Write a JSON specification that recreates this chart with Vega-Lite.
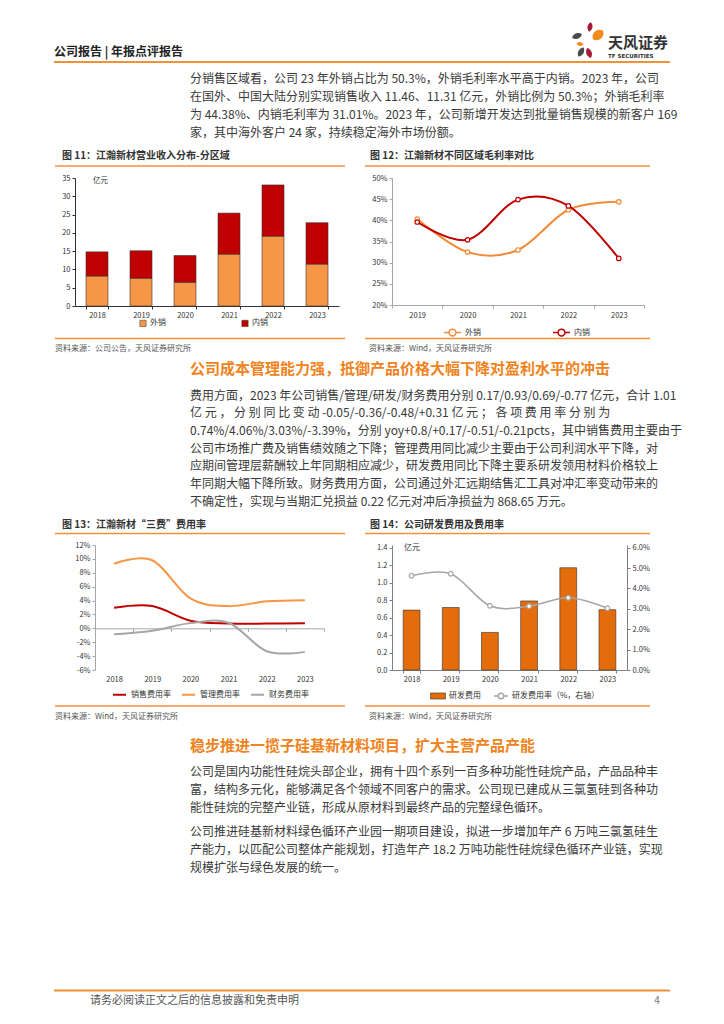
{
  "$schema": "https://vega.github.io/schema/vega-lite/v6.json",
  "padding": 0,
  "background": "white",
  "columns": 2,
  "spacing": {"row": 0, "column": 53},
  "bounds": "flush",
  "align": "each",
  "resolve": {
    "scale": {"color": "independent", "fill": "independent", "stroke": "independent"},
    "legend": {"color": "independent", "fill": "independent", "stroke": "independent"}
  },
  "datasets": {"one": [{"k": 1}]},
  "config": {
    "view": {"stroke": null},
    "font": "Noto Sans CJK SC",
    "axis": {"labelFont": "Noto Sans CJK SC", "labelFontSize": 7.5, "labelColor": "#333333", "grid": false, "tickSize": 3, "labelPadding": 2},
    "legend": {"labelFont": "Noto Sans CJK SC", "labelFontSize": 8, "labelColor": "#333333"}
  },
  "concat": [
    {
      "width": 264,
      "height": 177.5,
      "layer": [
        {"data": {"name": "one"}, "mark": {"type": "rect", "fill": "white"}, "encoding": {"x": {"value": -75}, "x2": {"value": 649}, "y": {"value": 0}, "y2": {"value": 1024}}},
        {"data": {"name": "one"}, "mark": {"type": "text", "align": "left", "baseline": "middle", "fontSize": 12, "fontWeight": "bold", "color": "#222222"}, "encoding": {"x": {"value": -21}, "y": {"value": 52}, "text": {"value": "公司报告 | 年报点评报告"}}},
        {"data": {"name": "one"}, "mark": {"type": "rule", "color": "#F0913A", "strokeWidth": 2}, "encoding": {"x": {"value": -21}, "x2": {"value": 595}, "y": {"value": 62}}},
        {"data": {"name": "one"}, "mark": {"type": "point", "filled": true, "shape": "M0,-1C0.7,-0.5,0.7,0.5,0,1C-0.7,0.5,-0.7,-0.5,0,-1Z", "size": 90, "angle": 10, "color": "#A51C3A", "opacity": 1}, "encoding": {"x": {"value": 515}, "y": {"value": 27}}},
        {"data": {"name": "one"}, "mark": {"type": "point", "filled": true, "shape": "M0,-1C0.9,-0.6,0.9,0.6,0,1C-0.9,0.6,-0.9,-0.6,0,-1Z", "size": 180, "angle": 50, "color": "#F28A1E", "opacity": 1}, "encoding": {"x": {"value": 523}, "y": {"value": 35}}},
        {"data": {"name": "one"}, "mark": {"type": "point", "filled": true, "shape": "M0,-1C0.7,-0.5,0.7,0.5,0,1C-0.7,0.5,-0.7,-0.5,0,-1Z", "size": 110, "angle": 70, "color": "#4A4A4A", "opacity": 1}, "encoding": {"x": {"value": 502}, "y": {"value": 36}}},
        {"data": {"name": "one"}, "mark": {"type": "point", "filled": true, "shape": "M0,-1C0.7,-0.5,0.7,0.5,0,1C-0.7,0.5,-0.7,-0.5,0,-1Z", "size": 50, "angle": 100, "color": "#F28A1E", "opacity": 1}, "encoding": {"x": {"value": 505}, "y": {"value": 44}}},
        {"data": {"name": "one"}, "mark": {"type": "point", "filled": true, "shape": "M0,-1C0.7,-0.5,0.7,0.5,0,1C-0.7,0.5,-0.7,-0.5,0,-1Z", "size": 110, "angle": 30, "color": "#4A4A4A", "opacity": 1}, "encoding": {"x": {"value": 506}, "y": {"value": 52}}},
        {"data": {"name": "one"}, "mark": {"type": "point", "filled": true, "shape": "M0,-1C0.7,-0.5,0.7,0.5,0,1C-0.7,0.5,-0.7,-0.5,0,-1Z", "size": 110, "angle": 160, "color": "#A51C3A", "opacity": 1}, "encoding": {"x": {"value": 514}, "y": {"value": 53}}},
        {"data": {"name": "one"}, "mark": {"type": "text", "align": "left", "baseline": "middle", "fontSize": 15, "fontWeight": "bold", "color": "#333333"}, "encoding": {"x": {"value": 533}, "y": {"value": 43}, "text": {"value": "天风证券"}}},
        {"data": {"name": "one"}, "mark": {"type": "text", "align": "left", "baseline": "middle", "fontSize": 5.5, "fontWeight": "bold", "color": "#333333", "font": "DejaVu Sans"}, "encoding": {"x": {"value": 533}, "y": {"value": 56}, "text": {"value": "TF SECURITIES"}}},
        {
          "data": {"values": [
            {"line": 1, "text": "分销售区域看，公司 23 年外销占比为 50.3%，外销毛利率水平高于内销。2023 年，公司"},
            {"line": 2, "text": "在国外、中国大陆分别实现销售收入 11.46、11.31 亿元，外销比例为 50.3%；外销毛利率"},
            {"line": 3, "text": "为 44.38%、内销毛利率为 31.01%。2023 年，公司新增开发达到批量销售规模的新客户 169"},
            {"line": 4, "text": "家，其中海外客户 24 家，持续稳定海外市场份额。"}
          ]},
          "mark": {"type": "text", "align": "left", "baseline": "middle", "fontSize": 12, "color": "#3A3A3A"},
          "encoding": {
            "x": {"value": 115},
            "y": {"field": "line", "type": "quantitative", "scale": {"domain": [1, 4], "range": [79, 133]}, "axis": null},
            "text": {"field": "text"}
          }
        },
        {"data": {"name": "one"}, "mark": {"type": "text", "align": "left", "baseline": "middle", "fontSize": 10, "fontWeight": "bold", "color": "#333333"}, "encoding": {"x": {"value": -13}, "y": {"value": 156}, "text": {"value": "图 11：江瀚新材营业收入分布-分区域"}}},
        {"data": {"name": "one"}, "mark": {"type": "text", "align": "left", "baseline": "middle", "fontSize": 10, "fontWeight": "bold", "color": "#333333"}, "encoding": {"x": {"value": 295}, "y": {"value": 156}, "text": {"value": "图 12：江瀚新材不同区域毛利率对比"}}},
        {"data": {"name": "one"}, "mark": {"type": "rule", "color": "#F0913A", "strokeWidth": 1.5}, "encoding": {"x": {"value": -20}, "x2": {"value": 270}, "y": {"value": 166}}},
        {"data": {"name": "one"}, "mark": {"type": "rule", "color": "#F0913A", "strokeWidth": 1.5}, "encoding": {"x": {"value": 290}, "x2": {"value": 575}, "y": {"value": 166}}}
      ],
      "resolve": {"scale": {"y": "independent"}}
    },
    {"data": {"values": []}, "mark": "text", "width": 1, "height": 1},
    {
      "width": 264,
      "height": 128,
      "layer": [
        {
          "data": {"values": [
            {"year": "2018", "region": "外销", "k": 1, "value": 8.2},
            {"year": "2018", "region": "内销", "k": 2, "value": 6.6},
            {"year": "2019", "region": "外销", "k": 1, "value": 7.6},
            {"year": "2019", "region": "内销", "k": 2, "value": 7.5},
            {"year": "2020", "region": "外销", "k": 1, "value": 6.5},
            {"year": "2020", "region": "内销", "k": 2, "value": 7.3},
            {"year": "2021", "region": "外销", "k": 1, "value": 14.2},
            {"year": "2021", "region": "内销", "k": 2, "value": 11.2},
            {"year": "2022", "region": "外销", "k": 1, "value": 19.1},
            {"year": "2022", "region": "内销", "k": 2, "value": 14.0},
            {"year": "2023", "region": "外销", "k": 1, "value": 11.46},
            {"year": "2023", "region": "内销", "k": 2, "value": 11.31}
          ]},
          "mark": {"type": "bar", "stroke": "#333333", "strokeWidth": 0.6},
          "encoding": {
            "x": {"field": "year", "type": "ordinal", "scale": {"paddingInner": 0.5, "paddingOuter": 0.25}, "axis": {"title": null, "labelAngle": 0, "tickBand": "extent", "domainColor": "#333333", "tickColor": "#333333", "labelPadding": 2}},
            "y": {"field": "value", "type": "quantitative", "stack": "zero", "scale": {"domain": [0, 35], "nice": false}, "axis": {"title": null, "values": [0, 5, 10, 15, 20, 25, 30, 35], "domainColor": "#333333", "tickColor": "#333333"}},
            "color": {"field": "region", "type": "nominal", "scale": {"domain": ["外销", "内销"], "range": ["#F79646", "#C00000"]},
              "legend": {"title": null, "orient": "none", "legendX": 64, "legendY": 141, "direction": "horizontal", "symbolType": "square", "symbolSize": 40, "symbolStrokeColor": "#333333", "symbolStrokeWidth": 0.5, "columnPadding": 74, "labelOffset": 3}},
            "order": {"field": "k", "type": "quantitative"}
          }
        },
        {"data": {"values": [{"u": "亿元"}]}, "mark": {"type": "text", "align": "left", "baseline": "middle", "fontSize": 7.5, "color": "#333333"}, "encoding": {"x": {"value": 18}, "y": {"value": 3}, "text": {"field": "u"}}}
      ]
    },
    {
      "width": 252,
      "height": 127,
      "data": {"values": [
        {"year": "2019", "region": "外销", "rate": 40.3},
        {"year": "2020", "region": "外销", "rate": 32.5},
        {"year": "2021", "region": "外销", "rate": 33.0},
        {"year": "2022", "region": "外销", "rate": 42.5},
        {"year": "2023", "region": "外销", "rate": 44.38},
        {"year": "2019", "region": "内销", "rate": 39.6},
        {"year": "2020", "region": "内销", "rate": 35.4},
        {"year": "2021", "region": "内销", "rate": 44.9},
        {"year": "2022", "region": "内销", "rate": 43.4},
        {"year": "2023", "region": "内销", "rate": 31.01}
      ]},
      "mark": {"type": "line", "interpolate": "cardinal", "strokeWidth": 2, "point": {"filled": false, "fill": "white", "size": 20, "strokeWidth": 1.2}},
      "encoding": {
        "x": {"field": "year", "type": "ordinal", "bandPosition": 0.5, "scale": {"type": "band", "paddingInner": 0, "paddingOuter": 0}, "axis": {"title": null, "labelAngle": 0, "tickBand": "extent", "domainColor": "#A6A6A6", "tickColor": "#A6A6A6", "labelPadding": 3}},
        "y": {"field": "rate", "type": "quantitative", "scale": {"domain": [20, 50], "nice": false}, "axis": {"title": null, "values": [20, 25, 30, 35, 40, 45, 50], "labelExpr": "datum.value + '%'", "domainColor": "#A6A6A6", "tickColor": "#A6A6A6"}},
        "color": {"field": "region", "type": "nominal", "scale": {"domain": ["外销", "内销"], "range": ["#F28C38", "#C00000"]},
          "legend": {"title": null, "orient": "none", "legendX": 51, "legendY": 145, "direction": "horizontal", "symbolType": "M-1,0L-0.4,0M0.4,0L1,0M0.4,0A0.4,0.4,0,1,1,-0.4,0A0.4,0.4,0,1,1,0.4,0", "symbolSize": 289, "symbolStrokeWidth": 1.5, "symbolFillColor": "white", "columnPadding": 69, "labelOffset": 3}}
      }
    },
    {
      "width": 264,
      "height": 239,
      "layer": [
        {"data": {"name": "one"}, "mark": {"type": "rule", "color": "#F0913A", "strokeWidth": 1.5}, "encoding": {"x": {"value": -20}, "x2": {"value": 270}, "y": {"value": 32.5}}},
        {"data": {"name": "one"}, "mark": {"type": "rule", "color": "#F0913A", "strokeWidth": 1.5}, "encoding": {"x": {"value": 290}, "x2": {"value": 575}, "y": {"value": 32.5}}},
        {"data": {"name": "one"}, "mark": {"type": "text", "align": "left", "baseline": "middle", "fontSize": 8, "color": "#555555"}, "encoding": {"x": {"value": -20}, "y": {"value": 42.5}, "text": {"value": "资料来源：公司公告，天风证券研究所"}}},
        {"data": {"name": "one"}, "mark": {"type": "text", "align": "left", "baseline": "middle", "fontSize": 8, "color": "#555555"}, "encoding": {"x": {"value": 294}, "y": {"value": 42.5}, "text": {"value": "资料来源：Wind，天风证券研究所"}}},
        {"data": {"name": "one"}, "mark": {"type": "text", "align": "left", "baseline": "middle", "fontSize": 15, "fontWeight": "bold", "color": "#EF8320"}, "encoding": {"x": {"value": 115}, "y": {"value": 62.5}, "text": {"value": "公司成本管理能力强，抵御产品价格大幅下降对盈利水平的冲击"}}},
        {
          "data": {"values": [
            {"line": 1, "text": "费用方面，2023 年公司销售/管理/研发/财务费用分别 0.17/0.93/0.69/-0.77 亿元，合计 1.01"},
            {"line": 2, "text": "亿 元 ， 分 别 同 比 变 动 -0.05/-0.36/-0.48/+0.31  亿 元 ； 各 项 费 用 率 分 别 为"},
            {"line": 3, "text": "0.74%/4.06%/3.03%/-3.39%，分别 yoy+0.8/+0.17/-0.51/-0.21pcts，其中销售费用主要由于"},
            {"line": 4, "text": "公司市场推广费及销售绩效随之下降；管理费用同比减少主要由于公司利润水平下降，对"},
            {"line": 5, "text": "应期间管理层薪酬较上年同期相应减少，研发费用同比下降主要系研发领用材料价格较上"},
            {"line": 6, "text": "年同期大幅下降所致。财务费用方面，公司通过外汇远期结售汇工具对冲汇率变动带来的"},
            {"line": 7, "text": "不确定性，实现与当期汇兑损益 0.22 亿元对冲后净损益为 868.65 万元。"}
          ]},
          "mark": {"type": "text", "align": "left", "baseline": "middle", "fontSize": 12, "color": "#3A3A3A"},
          "encoding": {
            "x": {"value": 115},
            "y": {"field": "line", "type": "quantitative", "scale": {"domain": [1, 7], "range": [89.5, 195.5]}, "axis": null},
            "text": {"field": "text"}
          }
        },
        {"data": {"name": "one"}, "mark": {"type": "text", "align": "left", "baseline": "middle", "fontSize": 10, "fontWeight": "bold", "color": "#333333"}, "encoding": {"x": {"value": -13}, "y": {"value": 218.5}, "text": {"value": "图 13：江瀚新材“三费”费用率"}}},
        {"data": {"name": "one"}, "mark": {"type": "text", "align": "left", "baseline": "middle", "fontSize": 10, "fontWeight": "bold", "color": "#333333"}, "encoding": {"x": {"value": 295}, "y": {"value": 218.5}, "text": {"value": "图 14：公司研发费用及费用率"}}},
        {"data": {"name": "one"}, "mark": {"type": "rule", "color": "#F0913A", "strokeWidth": 1.5}, "encoding": {"x": {"value": -20}, "x2": {"value": 270}, "y": {"value": 227.5}}},
        {"data": {"name": "one"}, "mark": {"type": "rule", "color": "#F0913A", "strokeWidth": 1.5}, "encoding": {"x": {"value": 290}, "x2": {"value": 575}, "y": {"value": 227.5}}}
      ],
      "resolve": {"scale": {"y": "independent"}}
    },
    {"data": {"values": []}, "mark": "text", "width": 1, "height": 1},
    {
      "width": 249,
      "height": 125,
      "data": {"values": [
        {"year": "2018", "series": "销售费用率", "rate": 2.95},
        {"year": "2019", "series": "销售费用率", "rate": 3.2},
        {"year": "2020", "series": "销售费用率", "rate": 1.1},
        {"year": "2021", "series": "销售费用率", "rate": 0.7},
        {"year": "2022", "series": "销售费用率", "rate": 0.68},
        {"year": "2023", "series": "销售费用率", "rate": 0.74},
        {"year": "2018", "series": "管理费用率", "rate": 9.3},
        {"year": "2019", "series": "管理费用率", "rate": 9.8},
        {"year": "2020", "series": "管理费用率", "rate": 4.3},
        {"year": "2021", "series": "管理费用率", "rate": 3.2},
        {"year": "2022", "series": "管理费用率", "rate": 3.89},
        {"year": "2023", "series": "管理费用率", "rate": 4.06},
        {"year": "2018", "series": "财务费用率", "rate": -0.85},
        {"year": "2019", "series": "财务费用率", "rate": -0.35},
        {"year": "2020", "series": "财务费用率", "rate": 0.75},
        {"year": "2021", "series": "财务费用率", "rate": 0.8},
        {"year": "2022", "series": "财务费用率", "rate": -3.3},
        {"year": "2023", "series": "财务费用率", "rate": -3.39}
      ]},
      "mark": {"type": "line", "interpolate": "cardinal", "strokeWidth": 2},
      "encoding": {
        "x": {"field": "year", "type": "ordinal", "bandPosition": 0.5, "scale": {"type": "band", "range": [20, 249], "paddingInner": 0, "paddingOuter": 0}, "axis": {"title": null, "labelAngle": 0, "tickBand": "extent", "offset": -41.67, "labelPadding": 44, "domainColor": "#A6A6A6", "tickColor": "#A6A6A6"}},
        "y": {"field": "rate", "type": "quantitative", "scale": {"domain": [-6, 12], "nice": false}, "axis": {"title": null, "offset": -20, "values": [-6, -4, -2, 0, 2, 4, 6, 8, 10, 12], "labelExpr": "datum.value + '%'", "domainColor": "#A6A6A6", "tickColor": "#A6A6A6"}},
        "color": {"field": "series", "type": "nominal", "scale": {"domain": ["销售费用率", "管理费用率", "财务费用率"], "range": ["#C00000", "#F79646", "#A6A6A6"]},
          "legend": {"title": null, "orient": "none", "legendX": 37, "legendY": 142, "direction": "horizontal", "symbolType": "stroke", "symbolSize": 169, "symbolStrokeWidth": 2, "columnPadding": 7, "labelOffset": 4}}
      }
    },
    {
      "width": 235,
      "height": 125,
      "data": {"values": [
        {"year": "2018", "cost": 0.685, "ratio": 4.62},
        {"year": "2019", "cost": 0.715, "ratio": 4.72},
        {"year": "2020", "cost": 0.43, "ratio": 3.15},
        {"year": "2021", "cost": 0.79, "ratio": 3.13},
        {"year": "2022", "cost": 1.17, "ratio": 3.54},
        {"year": "2023", "cost": 0.69, "ratio": 3.03}
      ]},
      "layer": [
        {
          "mark": {"type": "bar", "stroke": "#333333", "strokeWidth": 0.6},
          "encoding": {
            "x": {"field": "year", "type": "ordinal", "scale": {"paddingInner": 0.57, "paddingOuter": 0.285}, "axis": {"title": null, "labelAngle": 0, "tickBand": "extent", "domainColor": "#808080", "tickColor": "#808080", "labelPadding": 2}},
            "y": {"field": "cost", "type": "quantitative", "scale": {"domain": [0, 1.43], "nice": false}, "axis": {"title": null, "values": [0, 0.2, 0.4, 0.6, 0.8, 1.0, 1.2, 1.4], "format": ".1f", "domainColor": "#808080", "tickColor": "#808080"}},
            "fill": {"datum": "研发费用", "scale": {"domain": ["研发费用"], "range": ["#E46C0A"]},
              "legend": {"title": null, "orient": "none", "legendX": 38, "legendY": 143, "symbolType": "M-1,-0.4L1,-0.4L1,0.4L-1,0.4Z", "symbolSize": 225, "symbolStrokeColor": "#333333", "symbolStrokeWidth": 0.6, "labelOffset": 3}}
          }
        },
        {
          "mark": {"type": "line", "interpolate": "cardinal", "strokeWidth": 1.5, "point": {"filled": false, "fill": "white", "size": 22, "strokeWidth": 1.2}},
          "encoding": {
            "x": {"field": "year", "type": "ordinal", "bandPosition": 0.5},
            "y": {"field": "ratio", "type": "quantitative", "scale": {"domain": [0, 6.13], "nice": false}, "axis": {"title": null, "orient": "right", "values": [0, 1, 2, 3, 4, 5, 6], "labelExpr": "format(datum.value, '.1f') + '%'", "domainColor": "#808080", "tickColor": "#808080"}},
            "stroke": {"datum": "研发费用率（%，右轴）", "scale": {"domain": ["研发费用率（%，右轴）"], "range": ["#A6A6A6"]},
              "legend": {"title": null, "orient": "none", "legendX": 101, "legendY": 143, "symbolType": "M-1,0L-0.4,0M0.4,0L1,0M0.4,0A0.4,0.4,0,1,1,-0.4,0A0.4,0.4,0,1,1,0.4,0", "symbolSize": 196, "symbolStrokeWidth": 1.5, "symbolFillColor": "white", "labelOffset": 3}}
          }
        },
        {"data": {"values": [{"u": "亿元"}]}, "mark": {"type": "text", "align": "left", "baseline": "middle", "fontSize": 8, "color": "#333333"}, "encoding": {"x": {"value": 12}, "y": {"value": 3}, "text": {"field": "u"}}}
      ],
      "resolve": {"scale": {"y": "independent"}}
    },
    {
      "width": 264,
      "height": 354.5,
      "layer": [
        {"data": {"name": "one"}, "mark": {"type": "rule", "color": "#F0913A", "strokeWidth": 1.5}, "encoding": {"x": {"value": -20}, "x2": {"value": 270}, "y": {"value": 36}}},
        {"data": {"name": "one"}, "mark": {"type": "rule", "color": "#F0913A", "strokeWidth": 1.5}, "encoding": {"x": {"value": 290}, "x2": {"value": 575}, "y": {"value": 36}}},
        {"data": {"name": "one"}, "mark": {"type": "text", "align": "left", "baseline": "middle", "fontSize": 8, "color": "#555555"}, "encoding": {"x": {"value": -20}, "y": {"value": 46.5}, "text": {"value": "资料来源：Wind，天风证券研究所"}}},
        {"data": {"name": "one"}, "mark": {"type": "text", "align": "left", "baseline": "middle", "fontSize": 8, "color": "#555555"}, "encoding": {"x": {"value": 294}, "y": {"value": 46.5}, "text": {"value": "资料来源：Wind，天风证券研究所"}}},
        {"data": {"name": "one"}, "mark": {"type": "text", "align": "left", "baseline": "middle", "fontSize": 15, "fontWeight": "bold", "color": "#EF8320"}, "encoding": {"x": {"value": 115}, "y": {"value": 75.5}, "text": {"value": "稳步推进一揽子硅基新材料项目，扩大主营产品产能"}}},
        {
          "data": {"values": [
            {"line": 1, "text": "公司是国内功能性硅烷头部企业，拥有十四个系列一百多种功能性硅烷产品，产品品种丰"},
            {"line": 2, "text": "富，结构多元化，能够满足各个领域不同客户的需求。公司现已建成从三氯氢硅到各种功"},
            {"line": 3, "text": "能性硅烷的完整产业链，形成从原材料到最终产品的完整绿色循环。"}
          ]},
          "mark": {"type": "text", "align": "left", "baseline": "middle", "fontSize": 12, "color": "#3A3A3A"},
          "encoding": {
            "x": {"value": 115},
            "y": {"field": "line", "type": "quantitative", "scale": {"domain": [1, 3], "range": [101.5, 137.5]}, "axis": null},
            "text": {"field": "text"}
          }
        },
        {
          "data": {"values": [
            {"line": 1, "text": "公司推进硅基新材料绿色循环产业园一期项目建设，拟进一步增加年产 6 万吨三氯氢硅生"},
            {"line": 2, "text": "产能力，以匹配公司整体产能规划，打造年产 18.2 万吨功能性硅烷绿色循环产业链，实现"},
            {"line": 3, "text": "规模扩张与绿色发展的统一。"}
          ]},
          "mark": {"type": "text", "align": "left", "baseline": "middle", "fontSize": 12, "color": "#3A3A3A"},
          "encoding": {
            "x": {"value": 115},
            "y": {"field": "line", "type": "quantitative", "scale": {"domain": [1, 3], "range": [161.5, 197.5]}, "axis": null},
            "text": {"field": "text"}
          }
        },
        {"data": {"name": "one"}, "mark": {"type": "rule", "color": "#F0913A", "strokeWidth": 2}, "encoding": {"x": {"value": -21}, "x2": {"value": 595}, "y": {"value": 320.5}}},
        {"data": {"name": "one"}, "mark": {"type": "text", "align": "left", "baseline": "middle", "fontSize": 11, "color": "#555555"}, "encoding": {"x": {"value": 15}, "y": {"value": 330.5}, "text": {"value": "请务必阅读正文之后的信息披露和免责申明"}}},
        {"data": {"name": "one"}, "mark": {"type": "text", "align": "center", "baseline": "middle", "fontSize": 10, "color": "#777777"}, "encoding": {"x": {"value": 582}, "y": {"value": 330.5}, "text": {"value": "4"}}}
      ],
      "resolve": {"scale": {"y": "independent"}}
    },
    {"data": {"values": []}, "mark": "text", "width": 1, "height": 1}
  ]
}
